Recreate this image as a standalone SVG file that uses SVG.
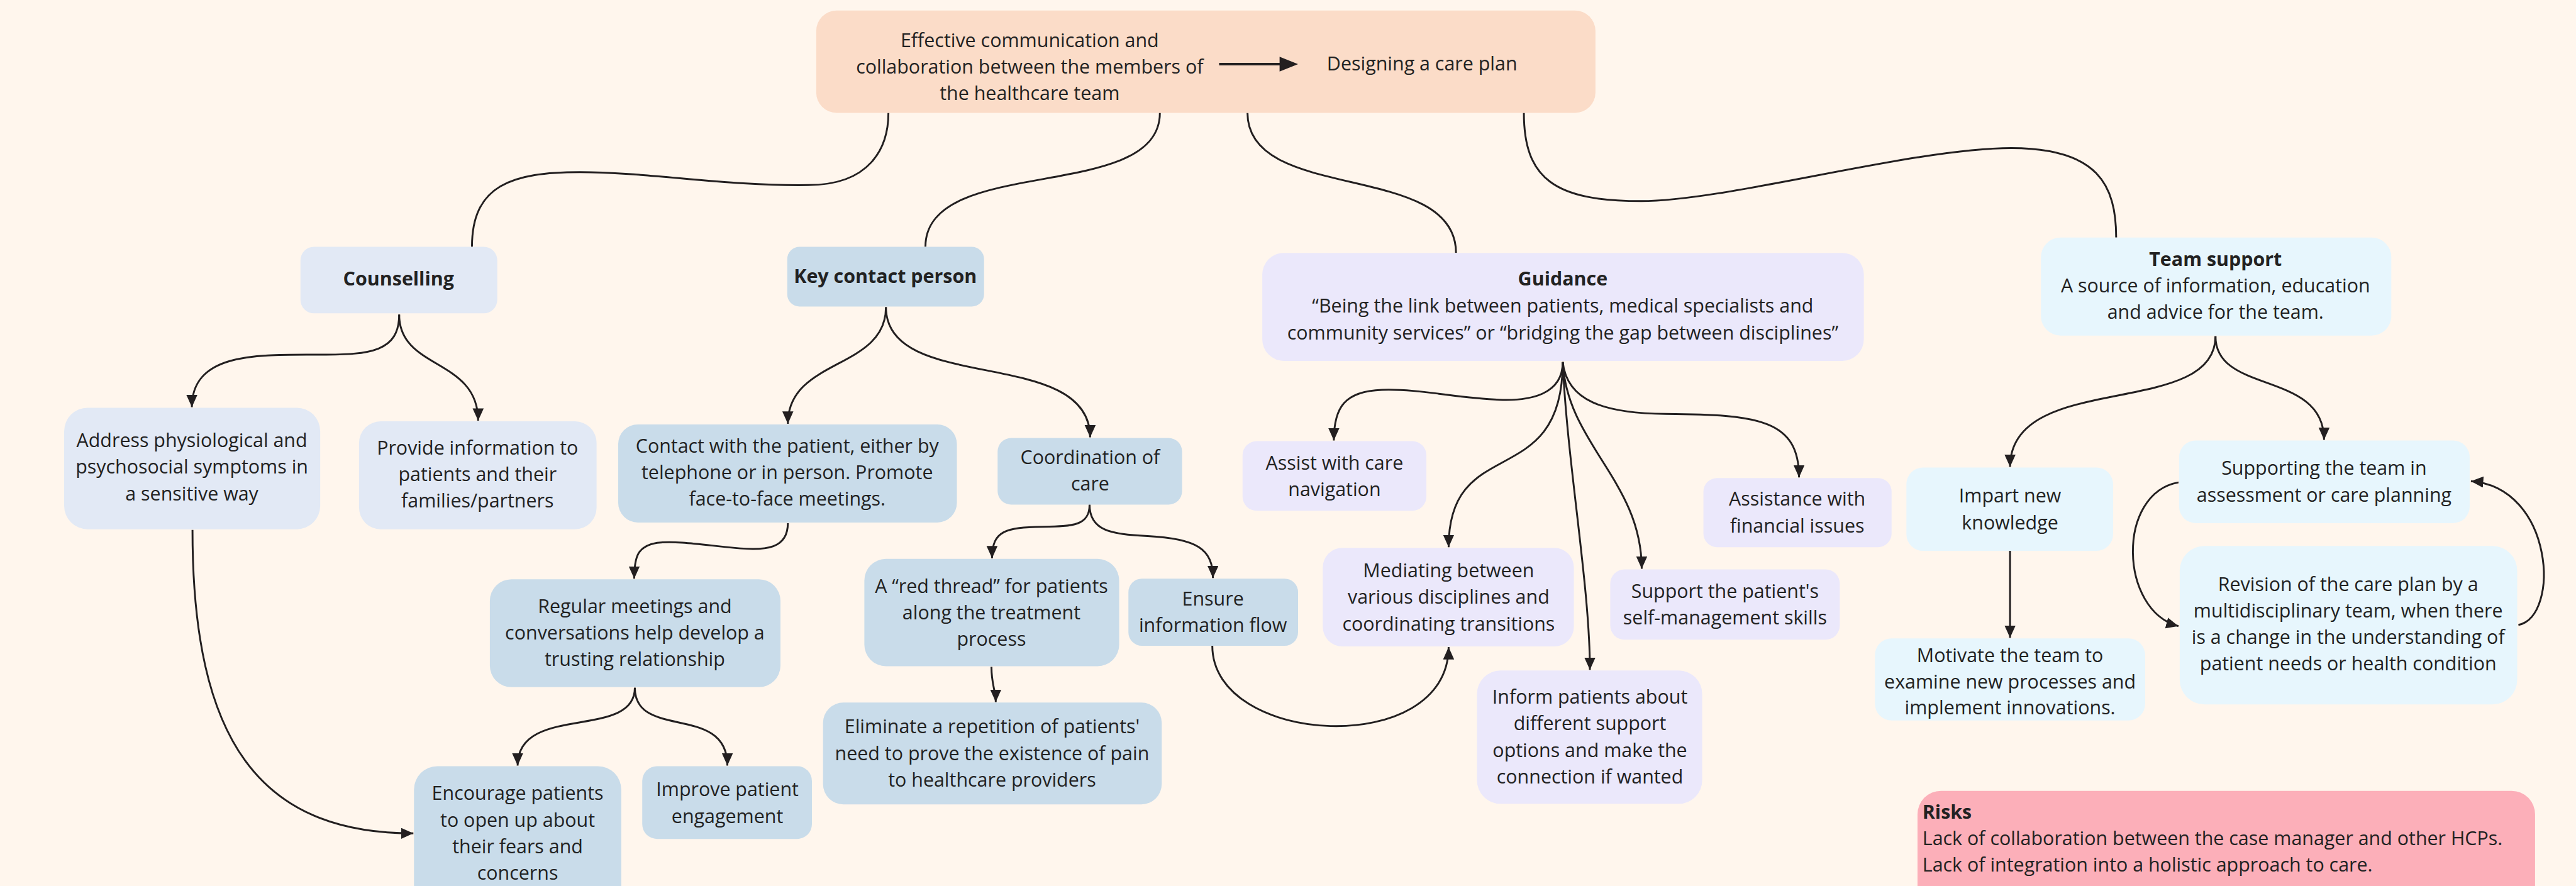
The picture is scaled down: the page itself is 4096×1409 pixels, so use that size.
<svg xmlns="http://www.w3.org/2000/svg" width="4096" height="1409" viewBox="0 0 4096 1409">
<style>
.t{font-family:"Open Sans","Noto Sans","Liberation Sans",sans-serif;font-size:31px;fill:#222;text-anchor:middle}
.b{font-weight:bold}
.l{text-anchor:start}
.top{fill:#fbdcc8}
.cou{fill:#e2e9f5}
.key{fill:#c9dcea}
.gui{fill:#ebe8fb}
.tea{fill:#e7f6fd}
.ris{fill:#fcafb9}
.c{fill:none;stroke:#231f20;stroke-width:3}
.a{marker-end:url(#ah)}
</style>
<defs>
<marker id="ah" markerUnits="userSpaceOnUse" markerWidth="22" markerHeight="20" refX="20" refY="9" orient="auto" viewBox="0 0 22 20"><path d="M0,0 L20,9 L0,18 Z" fill="#231f20"/></marker>
</defs>
<rect width="4096" height="1409" fill="#fff6ed"/>
<g transform="scale(0.981)">
<g id="connectors">
<path class="c" d="M1440,183 C1440,240 1410,300 1310,300 C1180,302 1050,279 940,279 C830,279 765,300 765,400"/>
<path class="c" d="M1880,183 C1880,330 1500,250 1500,400"/>
<path class="c" d="M2022,183 C2022,330 2360,260 2360,410"/>
<path class="c" d="M2470,183 C2470,290 2520,326 2660,326 C2800,326 3100,240 3260,240 C3400,240 3430,300 3430,385"/>
<path class="c a" d="M647,510 C647,570 600,575 520,575 C420,575 311,570 311,660"/>
<path class="c a" d="M647,510 C647,600 775,580 775,682"/>
<path class="c a" d="M312,859 C312,1200 420,1351 670,1351"/>
<path class="c a" d="M1436,498 C1436,600 1277,580 1277,687"/>
<path class="c a" d="M1436,498 C1436,640 1767,560 1767,709"/>
<path class="c a" d="M1277,848 C1277,890 1240,892 1200,889 C1150,885 1100,876 1065,880 C1035,885 1028,900 1028,938"/>
<path class="c a" d="M1029,1115 C1029,1200 839,1140 839,1241"/>
<path class="c a" d="M1029,1115 C1029,1200 1179,1140 1179,1241"/>
<path class="c a" d="M1766,818 C1766,852 1740,853 1690,854 C1630,855 1608,860 1608,905"/>
<path class="c a" d="M1766,818 C1766,860 1800,866 1860,869 C1940,873 1966,890 1966,937"/>
<path class="c a" d="M1607,1081 C1607,1110 1614,1120 1614,1138"/>
<path class="c a" d="M1965,1047 C1965,1210 2348,1230 2348,1049"/>
<path class="c a" d="M2533,587 C2533,640 2480,650 2430,648 C2360,645 2300,630 2240,632 C2180,634 2162,660 2162,714"/>
<path class="c a" d="M2533,587 C2533,800 2348,700 2348,887"/>
<path class="c a" d="M2533,587 C2540,750 2577,950 2577,1086"/>
<path class="c a" d="M2533,587 C2540,720 2661,780 2661,922"/>
<path class="c a" d="M2533,587 C2540,650 2600,670 2700,671 C2850,672 2916,680 2916,774"/>
<path class="c a" d="M3591,545 C3591,680 3258,600 3258,757"/>
<path class="c a" d="M3591,545 C3591,640 3767,600 3767,713"/>
<path class="c a" d="M3258,893 L3258,1034"/>
<path class="c a" d="M3531,782 C3430,800 3435,990 3531,1015"/>
<path class="c a" d="M4082,1013 C4150,1000 4140,790 4005,780"/>
</g>
<g id="n-top">
<rect class="top" x="1323" y="17" width="1263" height="166" rx="33"/>
<text class="t" x="1669" y="76">Effective communication and</text>
<text class="t" x="1669" y="119">collaboration between the members of</text>
<text class="t" x="1669" y="162">the healthcare team</text>
<line x1="1976" y1="104" x2="2080" y2="104" stroke="#231f20" stroke-width="4"/>
<path d="M2074,92 L2104,104 L2074,116 Z" fill="#231f20"/>
<text class="t" x="2305" y="114">Designing a care plan</text>
</g>
<g id="n-counselling">
<rect class="cou" x="487" y="400" width="319" height="108" rx="22"/>
<text class="t b" x="646" y="463">Counselling</text>
</g>
<g id="n-keycontact">
<rect class="key" x="1276" y="400" width="319" height="97" rx="20"/>
<text class="t b" x="1435" y="459">Key contact person</text>
</g>
<g id="n-guidance">
<rect class="gui" x="2046" y="410" width="975" height="175" rx="35"/>
<text class="t b" x="2533" y="463">Guidance</text>
<text class="t" x="2533" y="507">“Being the link between patients, medical specialists and</text>
<text class="t" x="2533" y="550">community services” or “bridging the gap between disciplines”</text>
</g>
<g id="n-team">
<rect class="tea" x="3308" y="385" width="568" height="159" rx="32"/>
<text class="t b" x="3591" y="431">Team support</text>
<text class="t" x="3591" y="474">A source of information, education</text>
<text class="t" x="3591" y="517">and advice for the team.</text>
</g>
<g id="n-address">
<rect class="cou" x="104" y="661" width="415" height="197" rx="38"/>
<text class="t" x="311" y="725">Address physiological and</text>
<text class="t" x="311" y="768">psychosocial symptoms in</text>
<text class="t" x="311" y="811">a sensitive way</text>
</g>
<g id="n-provide">
<rect class="cou" x="582" y="683" width="385" height="175" rx="35"/>
<text class="t" x="774" y="737">Provide information to</text>
<text class="t" x="774" y="780">patients and their</text>
<text class="t" x="774" y="823">families/partners</text>
</g>
<g id="n-contact">
<rect class="key" x="1002" y="688" width="549" height="159" rx="32"/>
<text class="t" x="1276" y="734">Contact with the patient, either by</text>
<text class="t" x="1276" y="777">telephone or in person. Promote</text>
<text class="t" x="1276" y="820">face-to-face meetings.</text>
</g>
<g id="n-coordination">
<rect class="key" x="1617" y="710" width="299" height="108" rx="22"/>
<text class="t" x="1767" y="752">Coordination of</text>
<text class="t" x="1767" y="795">care</text>
</g>
<g id="n-regular">
<rect class="key" x="794" y="939" width="471" height="175" rx="35"/>
<text class="t" x="1029" y="994">Regular meetings and</text>
<text class="t" x="1029" y="1037">conversations help develop a</text>
<text class="t" x="1029" y="1080">trusting relationship</text>
</g>
<g id="n-redthread">
<rect class="key" x="1401" y="906" width="413" height="174" rx="35"/>
<text class="t" x="1607" y="961">A “red thread” for patients</text>
<text class="t" x="1607" y="1004">along the treatment</text>
<text class="t" x="1607" y="1047">process</text>
</g>
<g id="n-ensure">
<rect class="key" x="1829" y="938" width="275" height="109" rx="22"/>
<text class="t" x="1966" y="982">Ensure</text>
<text class="t" x="1966" y="1024">information flow</text>
</g>
<g id="n-eliminate">
<rect class="key" x="1334" y="1139" width="549" height="165" rx="33"/>
<text class="t" x="1608" y="1189">Eliminate a repetition of patients'</text>
<text class="t" x="1608" y="1232">need to prove the existence of pain</text>
<text class="t" x="1608" y="1275">to healthcare providers</text>
</g>
<g id="n-encourage">
<rect class="key" x="671" y="1242" width="336" height="230" rx="38"/>
<text class="t" x="839" y="1297">Encourage patients</text>
<text class="t" x="839" y="1340">to open up about</text>
<text class="t" x="839" y="1383">their fears and</text>
<text class="t" x="839" y="1426">concerns</text>
</g>
<g id="n-improve">
<rect class="key" x="1041" y="1242" width="275" height="118" rx="24"/>
<text class="t" x="1179" y="1291">Improve patient</text>
<text class="t" x="1179" y="1334">engagement</text>
</g>
<g id="n-assist">
<rect class="gui" x="2014" y="715" width="298" height="113" rx="23"/>
<text class="t" x="2163" y="761">Assist with care</text>
<text class="t" x="2163" y="804">navigation</text>
</g>
<g id="n-assistance">
<rect class="gui" x="2761" y="775" width="305" height="112" rx="22"/>
<text class="t" x="2913" y="820">Assistance with</text>
<text class="t" x="2913" y="863">financial issues</text>
</g>
<g id="n-mediating">
<rect class="gui" x="2144" y="888" width="407" height="160" rx="32"/>
<text class="t" x="2348" y="936">Mediating between</text>
<text class="t" x="2348" y="979">various disciplines and</text>
<text class="t" x="2348" y="1022">coordinating transitions</text>
</g>
<g id="n-support">
<rect class="gui" x="2610" y="923" width="372" height="114" rx="23"/>
<text class="t" x="2796" y="969">Support the patient's</text>
<text class="t" x="2796" y="1012">self-management skills</text>
</g>
<g id="n-inform">
<rect class="gui" x="2394" y="1087" width="365" height="216" rx="38"/>
<text class="t" x="2577" y="1141">Inform patients about</text>
<text class="t" x="2577" y="1184">different support</text>
<text class="t" x="2577" y="1227">options and make the</text>
<text class="t" x="2577" y="1270">connection if wanted</text>
</g>
<g id="n-impart">
<rect class="tea" x="3090" y="758" width="335" height="135" rx="27"/>
<text class="t" x="3258" y="815">Impart new</text>
<text class="t" x="3258" y="858">knowledge</text>
</g>
<g id="n-motivate">
<rect class="tea" x="3039" y="1035" width="438" height="133" rx="27"/>
<text class="t" x="3258" y="1073">Motivate the team to</text>
<text class="t" x="3258" y="1116">examine new processes and</text>
<text class="t" x="3258" y="1158">implement innovations.</text>
</g>
<g id="n-supporting">
<rect class="tea" x="3532" y="714" width="471" height="134" rx="27"/>
<text class="t" x="3767" y="770">Supporting the team in</text>
<text class="t" x="3767" y="813">assessment or care planning</text>
</g>
<g id="n-revision">
<rect class="tea" x="3533" y="885" width="547" height="257" rx="40"/>
<text class="t" x="3806" y="958">Revision of the care plan by a</text>
<text class="t" x="3806" y="1001">multidisciplinary team, when there</text>
<text class="t" x="3806" y="1044">is a change in the understanding of</text>
<text class="t" x="3806" y="1087">patient needs or health condition</text>
</g>
<g id="n-risks">
<rect class="ris" x="3108" y="1282" width="1001" height="220" rx="38"/>
<text class="t b l" x="3116" y="1327">Risks</text>
<text class="t l" x="3116" y="1370">Lack of collaboration between the case manager and other HCPs.</text>
<text class="t l" x="3116" y="1413">Lack of integration into a holistic approach to care.</text>
</g>
</g>
</svg>
